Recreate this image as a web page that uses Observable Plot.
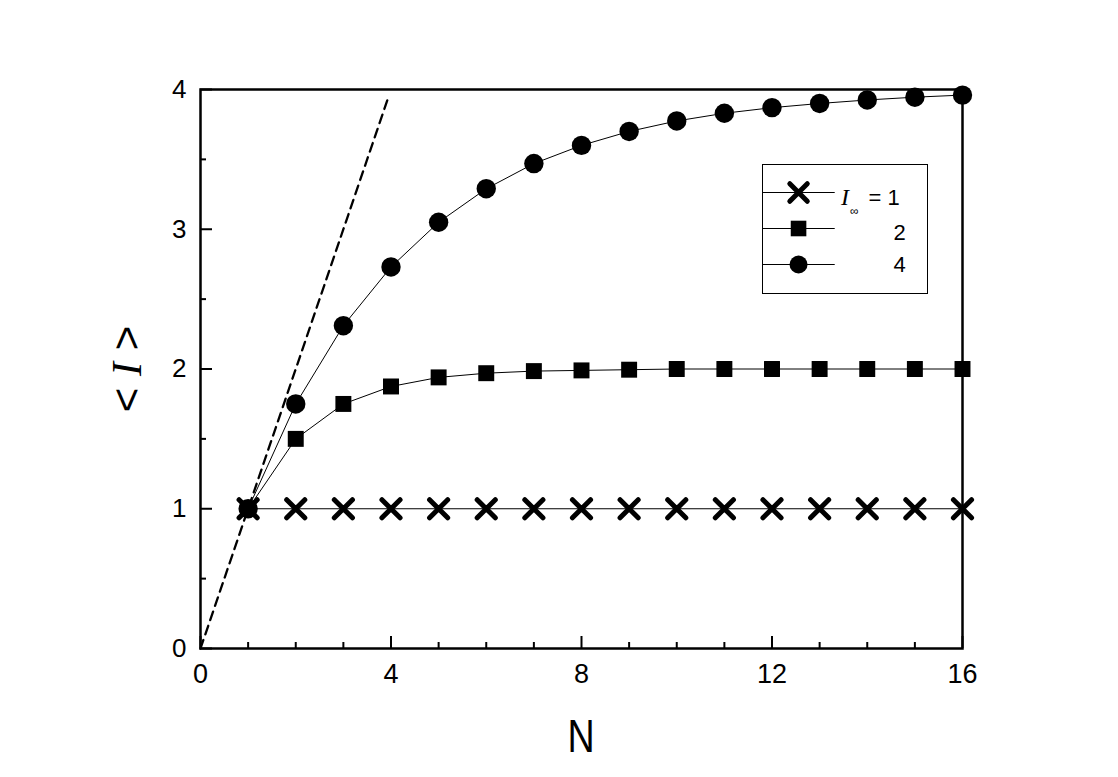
<!DOCTYPE html>
<html>
<head>
<meta charset="utf-8">
<script src="https://cdn.jsdelivr.net/npm/d3@7"></script>
<script src="https://cdn.jsdelivr.net/npm/@observablehq/plot@0.6"></script>
<style>
  html, body { margin: 0; padding: 0; background: #fff; }
  #wrap { position: relative; width: 1118px; height: 777px; font-family: "Liberation Sans", Arial, sans-serif; }
  #legend { position: absolute; left: 762px; top: 164px; width: 166px; height: 130px; border: 1.5px solid #000; box-sizing: border-box; background: #fff; }
  #legend .lab { position: absolute; font-size: 22px; line-height: 1; color: #000; white-space: nowrap; }
</style>
</head>
<body>
<div id="wrap"></div>
<script>
// ---- data ----
const N = [1,2,3,4,5,6,7,8,9,10,11,12,13,14,15,16];
const seriesInf1 = [1,1,1,1,1,1,1,1,1,1,1,1,1,1,1,1];
const seriesInf2 = [1,1.5,1.75,1.875,1.94,1.97,1.985,1.99,1.995,2,2,2,2,2,2,2];
const seriesInf4 = [1,1.75,2.31,2.73,3.05,3.29,3.47,3.6,3.7,3.775,3.83,3.87,3.9,3.925,3.945,3.96];
const dashedN = [0, 3.93];
const dashedI = [0, 3.93];
const seriesNames = ["1","2","4"];
const xMajor = [0,4,8,12,16];
const xMinor = [1,2,3,5,6,7,9,10,11,13,14,15];
const yMajor = [0,1,2,3,4];
const yMinor = [0.5,1.5,2.5,3.5];

const rows = (vals, s) => N.map((n,i) => ({N: n, I: vals[i], s}));
const d1 = rows(seriesInf1, "1");
const d2 = rows(seriesInf2, "2");
const d4 = rows(seriesInf4, "4");
const dashed = dashedN.map((n,i) => ({N: n, I: dashedI[i]}));

const W = 1118, H = 777;
const mL = 200, mR = 156, mT = 89, mB = 129;
const plotW = W - mL - mR, plotH = H - mT - mB;
const font = "Liberation Sans, Arial, sans-serif";

const chart = Plot.plot({
  width: W, height: H,
  marginLeft: mL, marginRight: mR, marginTop: mT, marginBottom: mB,
  style: {fontFamily: font, background: "white", color: "black"},
  x: {domain: [0,16], axis: null},
  y: {domain: [0,4], axis: null},
  marks: [
    // inward ticks
    Plot.ruleX(xMajor, {x: d => d, insetTop: plotH - 12, stroke: "black", strokeWidth: 2}),
    Plot.ruleX(xMinor, {x: d => d, insetTop: plotH - 6, stroke: "black", strokeWidth: 2}),
    Plot.ruleY(yMajor, {y: d => d, insetRight: plotW - 12, stroke: "black", strokeWidth: 2}),
    Plot.ruleY(yMinor, {y: d => d, insetRight: plotW - 6, stroke: "black", strokeWidth: 2}),
    // tick labels
    Plot.text(xMajor, {x: d => d, frameAnchor: "bottom", dy: 26, text: d => String(d), fontSize: 27, lineAnchor: "middle", fill: "black"}),
    Plot.text(yMajor, {y: d => d, frameAnchor: "left", dx: -14, text: d => String(d), fontSize: 26, textAnchor: "end", lineAnchor: "middle", fill: "black"}),
    // data
    Plot.line(dashed, {x: "N", y: "I", stroke: "black", strokeWidth: 2.3, strokeDasharray: "9,6"}),
    Plot.line(d4, {x: "N", y: "I", stroke: "black", strokeWidth: 1}),
    Plot.line(d2, {x: "N", y: "I", stroke: "black", strokeWidth: 1}),
    Plot.line(d1, {x: "N", y: "I", stroke: "black", strokeWidth: 1}),
    Plot.dot(d1, {x: "N", y: "I", symbol: "times", r: 8.3, stroke: "black", strokeWidth: 5, strokeLinecap: "round"}),
    Plot.dot(d2, {x: "N", y: "I", symbol: "square", r: 9, fill: "black", stroke: "none"}),
    Plot.dot(d4, {x: "N", y: "I", symbol: "circle", r: 9.7, fill: "black", stroke: "none"}),
    Plot.frame({stroke: "black", strokeWidth: 2.5})
  ]
});

const wrap = document.getElementById("wrap");
wrap.appendChild(chart);

// axis titles as real SVG text
const svg = d3.select(chart);
svg.append("text")
  .attr("transform", "translate(581,752) scale(0.8,1)")
  .attr("text-anchor", "middle")
  .attr("font-family", font).attr("font-size", 47)
  .text("N");
const yt = svg.append("text")
  .attr("transform", "translate(141,369) rotate(-90)")
  .attr("text-anchor", "middle")
  .attr("font-family", font).attr("font-size", 42);
yt.append("tspan").text("< ");
yt.append("tspan").attr("font-family", "Liberation Serif, DejaVu Serif, serif").attr("font-style", "italic").text("I");
yt.append("tspan").text(" >");

// legend
const legend = document.createElement("div");
legend.id = "legend";
wrap.appendChild(legend);
const legendData = [
  {s: "1", sym: "times"},
  {s: "2", sym: "square"},
  {s: "4", sym: "circle"}
];
const lp = Plot.plot({
  width: 163, height: 127, margin: 0,
  x: {domain: [0, 1], range: [0, 163], axis: null},
  y: {domain: seriesNames, type: "point", range: [26.5, 99.5], padding: 0, axis: null},
  style: {background: "transparent"},
  marks: [
    Plot.ruleY(legendData, {y: "s", x1: 0, x2: 0.44, stroke: "black", strokeWidth: 1}),
    Plot.dot(legendData.filter(d => d.sym === "times"), {y: "s", x: 0.215, symbol: "times", r: 8, stroke: "black", strokeWidth: 5, strokeLinecap: "round"}),
    Plot.dot(legendData.filter(d => d.sym === "square"), {y: "s", x: 0.215, symbol: "square", r: 8.8, fill: "black"}),
    Plot.dot(legendData.filter(d => d.sym === "circle"), {y: "s", x: 0.215, symbol: "circle", r: 9, fill: "black"})
  ]
});
lp.style.position = "absolute"; lp.style.left = "0px"; lp.style.top = "0px";
legend.appendChild(lp);
function lab(html, left, top) {
  const s = document.createElement("span");
  s.className = "lab"; s.innerHTML = html;
  s.style.left = left + "px"; s.style.top = top + "px";
  legend.appendChild(s);
}
lab('<span style="font-family:\'Liberation Serif\',\'DejaVu Serif\',serif;font-style:italic;font-size:24px;line-height:1;">I</span>'
  + '<span style="font-size:12px;line-height:1;position:relative;top:10px;margin-left:1px;">∞</span>'
  + '<span style="margin-left:10px;">= 1</span>', 78, 20);
lab('2', 130.5, 57);
lab('4', 130.5, 89);
</script>
</body>
</html>
